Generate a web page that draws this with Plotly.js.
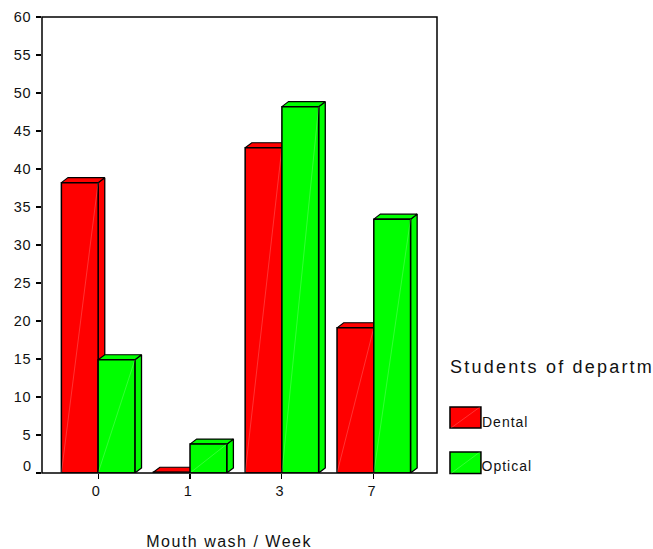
<!DOCTYPE html>
<html><head><meta charset="utf-8">
<script src="https://cdn.plot.ly/plotly-3.0.1.min.js"></script>
<style>
html,body{margin:0;padding:0;background:#fff;overflow:hidden}
.xtick text,.ytick text{letter-spacing:.6px}
.annotation[data-index="0"] text,.annotation[data-index="1"] text{letter-spacing:1px}
.annotation[data-index="2"] text{letter-spacing:2.2px}
.annotation[data-index="3"] text{letter-spacing:1.5px}
</style></head><body>
<div id="chart" style="width:653px;height:549px"></div>
<script>
const categories = ['0','1','3','7'];
const dental = [38.2, 0.1, 42.8, 19.1];
const optical = [14.9, 3.8, 48.2, 33.4];
const yTicks = [0,5,10,15,20,25,30,35,40,45,50,55,60];
const seriesNames = ['Dental','Optical'];
const seriesColors = ['#ff0000','#00ff00'];
const axisTitle = 'Mouth wash / Week';
const legendTitle = 'Students of departm';

const BW = 0.4, DX = 0.072, DY = 0.66;
const xs = categories.map((_, i) => i);
const traces = [];
function addSeries(vals, offset, color, name, z) {
  vals.forEach((v, i) => {
    const l = xs[i] + offset, r = l + BW;
    traces.push({type:'scatter',mode:'lines',x:[r,r+DX,r+DX,r,r],y:[0,DY,v+DY,v,0],fill:'toself',fillcolor:color,
      line:{color:'#000',width:1.3},hoverinfo:'skip',showlegend:false,zorder:z});
    traces.push({type:'scatter',mode:'lines',x:[l,l+DX,r+DX,r,l],y:[v,v+DY,v+DY,v,v],fill:'toself',fillcolor:color,
      line:{color:'#000',width:1.1},hoverinfo:'skip',showlegend:false,zorder:z});
  });
  traces.push({type:'bar',name:name,x:xs,y:vals,width:BW,offset:offset,marker:{color:color,line:{color:'#000',width:1.5}},showlegend:false,zorder:z+1});
  vals.forEach((v, i) => {
    const l = xs[i] + offset, r = l + BW;
    traces.push({type:'scatter',mode:'lines',x:[l,r],y:[0,v],line:{color:'rgba(255,255,255,0.25)',width:0.8},
      hoverinfo:'skip',showlegend:false,zorder:z+1});
  });
}
addSeries(dental, -BW, seriesColors[0], seriesNames[0], 1);
addSeries(optical, 0, seriesColors[1], seriesNames[1], 3);

const F = 'Liberation Sans, Arial, sans-serif';
const shapes = [], annotations = [];
const px = v => (v - 41.5) / 395.5, py = v => (473 - v) / 456;
[[407,428],[452,473.5]].forEach((b, i) => {
  shapes.push({type:'rect',xref:'paper',yref:'paper',x0:px(450),x1:px(481),y0:py(b[1]),y1:py(b[0]),
    fillcolor:seriesColors[i],line:{color:'#000',width:1.5},layer:'above'});
  shapes.push({type:'line',xref:'paper',yref:'paper',x0:px(451),x1:px(480),y0:py(b[1]),y1:py(b[0]),
    line:{color:'rgba(255,255,255,0.25)',width:0.8},layer:'above'});
  annotations.push({xref:'paper',yref:'paper',x:px(481.5),y:py(i===0?421.7:466),xanchor:'left',yanchor:'middle',xshift:3,
    text:seriesNames[i],showarrow:false,font:{family:F,size:14,color:'#111'},borderpad:0});
});
annotations.push({xref:'paper',yref:'paper',x:px(449),y:py(367),xanchor:'left',yanchor:'middle',xshift:21,
  text:legendTitle,showarrow:false,font:{family:F,size:18,color:'#111'},borderpad:0});
annotations.push({xref:'paper',yref:'paper',x:px(229),y:py(541),xanchor:'center',yanchor:'middle',
  text:axisTitle,showarrow:false,font:{family:F,size:16,color:'#111'},borderpad:0});
annotations.push({xref:'paper',yref:'paper',x:px(31),y:py(466),xanchor:'right',yanchor:'middle',
  text:String(yTicks[0]),showarrow:false,font:{family:F,size:14.5,color:'#111'},borderpad:0});
shapes.push({type:'rect',xref:'paper',yref:'paper',x0:0,x1:1,y0:0,y1:1,line:{color:'#000',width:1.5},layer:'above'});

Plotly.newPlot('chart', traces, {
  width:653,height:549,
  margin:{l:41.5,r:216,t:17,b:76,pad:0},
  paper_bgcolor:'#fff',plot_bgcolor:'#fff',
  barmode:'overlay',showlegend:false,
  xaxis:{range:[-0.611,3.688],tickmode:'array',tickvals:xs,ticktext:categories,ticks:'outside',ticklen:5,tickwidth:1.2,tickcolor:'#000',
    showgrid:false,zeroline:false,
    tickfont:{family:F,size:14.5,color:'#111'},ticklabelshift:-2,fixedrange:true},
  yaxis:{range:[0,60],tickmode:'array',tickvals:yTicks,ticktext:yTicks.map(v=>v===0?' ':String(v)),ticks:'outside',ticklen:5,tickwidth:1.2,tickcolor:'#000',
    showgrid:false,zeroline:false,
    tickfont:{family:F,size:14.5,color:'#111'},ticklabelstandoff:2,fixedrange:true},
  shapes,annotations
},{displayModeBar:false,staticPlot:true});
</script></body></html>
